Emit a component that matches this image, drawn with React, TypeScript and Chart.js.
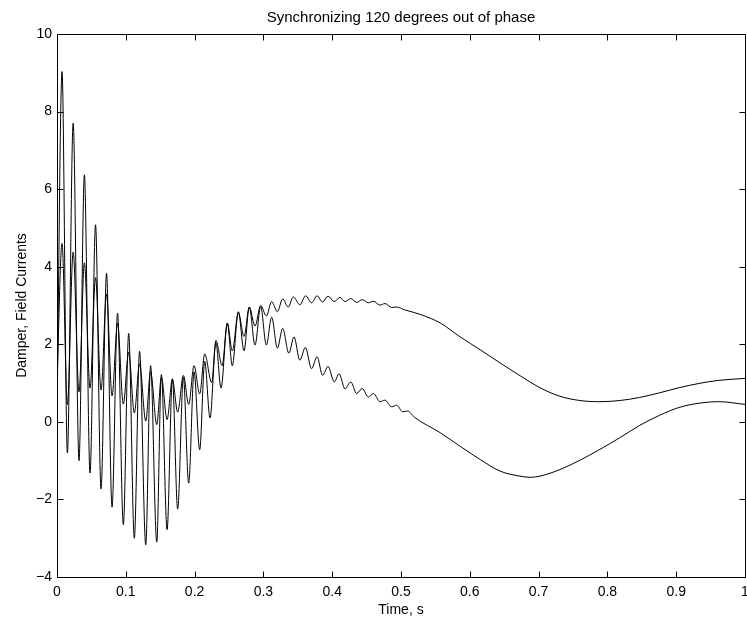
import { useEffect, useRef } from 'react';
import { Chart, registerables } from 'chart.js';

Chart.register(...registerables);

// Damper current (large oscillation, minimum near t = 0.69 s)
const damperTime = [
  0, 0.0073, 0.0151, 0.0235, 0.032, 0.0398, 0.048, 0.056, 0.064, 0.072, 0.08, 0.088, 0.0964, 0.1042,
  0.1124, 0.12, 0.129, 0.136, 0.145, 0.1517, 0.16, 0.1677, 0.1754, 0.1837, 0.1914, 0.1992, 0.2074,
  0.2147, 0.2224, 0.231, 0.2384, 0.2476, 0.2548, 0.2636, 0.2718, 0.2795, 0.2878, 0.296, 0.3043, 0.312,
  0.3203, 0.328, 0.337, 0.3445, 0.353, 0.361, 0.37, 0.378, 0.386, 0.394, 0.403, 0.41, 0.4186, 0.427,
  0.4355, 0.4437, 0.4525, 0.46, 0.4695, 0.4767, 0.4864, 0.4937, 0.5024, 0.5097, 0.5194, 0.557,
  0.586, 0.615, 0.644, 0.673, 0.688, 0.702, 0.731, 0.76, 0.789, 0.818, 0.847, 0.876, 0.904, 0.933,
  0.962, 1.0,
];
const damperCurrent = [
  0.2, 9.03, -0.8, 7.7, -1.0, 6.37, -1.32, 5.08, -1.73, 3.83, -2.2, 2.8, -2.65, 2.28,
  -3.0, 1.82, -3.17, 1.45, -3.1, 1.22, -2.78, 1.11, -2.25, 1.15, -1.58, 1.29, -0.72,
  1.56, 0.1, 2.04, 0.87, 2.54, 1.45, 2.84, 1.83, 2.96, 1.98, 2.97, 1.98, 2.7,
  1.9, 2.41, 1.77, 2.19, 1.59, 1.92, 1.37, 1.68, 1.2, 1.43, 1.03, 1.24, 0.85, 1.03,
  0.73, 0.86, 0.64, 0.73, 0.52, 0.56, 0.39, 0.43, 0.26, 0.28, 0.12, -0.28,
  -0.63, -0.97, -1.27, -1.4, -1.43, -1.4, -1.23, -0.99, -0.71, -0.41, -0.09, 0.17, 0.37, 0.48,
  0.52, 0.45,
];

// Field current (smaller oscillation, settles near 1.1)
const fieldTime = [
  0, 0.0073, 0.0151, 0.0235, 0.032, 0.0398, 0.048, 0.056, 0.064, 0.072, 0.08, 0.088, 0.0964, 0.1042,
  0.1124, 0.12, 0.129, 0.136, 0.145, 0.1517, 0.16, 0.1677, 0.1754, 0.1837, 0.1914, 0.1992, 0.2074,
  0.2147, 0.2248, 0.231, 0.24, 0.2476, 0.2548, 0.2636, 0.2718, 0.2795, 0.2878, 0.296, 0.3043, 0.312,
  0.3203, 0.328, 0.336, 0.3435, 0.353, 0.3614, 0.37, 0.378, 0.386, 0.394, 0.403, 0.4113, 0.4186, 0.427,
  0.4355, 0.4437, 0.4525, 0.46, 0.4695, 0.4767, 0.4864, 0.4937, 0.505, 0.528, 0.557, 0.586, 0.615,
  0.644, 0.673, 0.702, 0.731, 0.76, 0.789, 0.818, 0.847, 0.876, 0.904, 0.933, 0.962, 1.0,
];
const fieldCurrent = [
  1.0, 4.6, 0.45, 4.38, 0.77, 4.1, 0.87, 3.72, 0.82, 3.3, 0.67, 2.55, 0.46, 1.8,
  0.23, 1.5, 0.02, 1.3, -0.07, 1.15, 0.06, 1.1, 0.25, 1.2, 0.45, 1.45, 0.72,
  1.75, 1.01, 2.1, 1.45, 2.55, 1.83, 2.82, 2.2, 2.96, 2.47, 3.0, 2.73, 3.1,
  2.84, 3.17, 2.96, 3.22, 3.02, 3.25, 3.07, 3.25, 3.09, 3.24, 3.1, 3.21, 3.1, 3.18,
  3.08, 3.15, 3.07, 3.11, 3.01, 3.05, 2.95, 2.96, 2.89, 2.77, 2.55, 2.19, 1.86,
  1.52, 1.19, 0.88, 0.66, 0.55, 0.52, 0.55, 0.63, 0.75, 0.88, 0.99, 1.07, 1.12,
];

const xTickValues = [0, 0.1, 0.2, 0.3, 0.4, 0.5, 0.6, 0.7, 0.8, 0.9, 1];
const xTickLabels = ['0', '0.1', '0.2', '0.3', '0.4', '0.5', '0.6', '0.7', '0.8', '0.9', '1'];
const yTickValues = [-4, -2, 0, 2, 4, 6, 8, 10];
const yTickLabels = ['\u22124', '\u22122', '0', '2', '4', '6', '8', '10'];

const chartTitle = 'Synchronizing 120 degrees out of phase';
const xAxisTitle = 'Time, s';
const yAxisTitle = 'Damper, Field Currents';

const FONT = '"Liberation Sans", Arial, Helvetica, sans-serif';

const framePlugin = {
  id: 'matlabFrame',
  afterDraw(chart: any) {
    const { ctx, chartArea } = chart;
    const { left, right, top, bottom } = chartArea;
    const xs = chart.scales.x;
    const ys = chart.scales.y;
    const L = Math.round(left) + 0.5;
    const R = Math.round(right) + 0.5;
    const T = Math.round(top) + 0.5;
    const B = Math.round(bottom) + 0.5;
    const len = 6;
    ctx.save();
    ctx.strokeStyle = '#000';
    ctx.lineWidth = 1;
    ctx.beginPath();
    ctx.moveTo(L, T);
    ctx.lineTo(R, T);
    ctx.lineTo(R, B);
    ctx.lineTo(L, B);
    ctx.closePath();
    xTickValues.forEach((v) => {
      const px = Math.round(xs.getPixelForValue(v)) + 0.5;
      ctx.moveTo(px, B);
      ctx.lineTo(px, B - len);
      ctx.moveTo(px, T);
      ctx.lineTo(px, T + len);
    });
    yTickValues.forEach((v) => {
      const py = Math.round(ys.getPixelForValue(v)) + 0.5;
      ctx.moveTo(L, py);
      ctx.lineTo(L + len, py);
      ctx.moveTo(R, py);
      ctx.lineTo(R - len, py);
    });
    ctx.stroke();
    ctx.restore();
  },
};

export default function App() {
  const ref = useRef<HTMLCanvasElement | null>(null);

  useEffect(() => {
    document.body.style.margin = '0';
    const canvas = ref.current;
    if (!canvas) return;
    const toPoints = (t: number[], v: number[]) => t.map((x, i) => ({ x, y: v[i] }));

    const chart = new Chart(canvas, {
      type: 'line',
      data: {
        datasets: [
          {
            label: 'Damper current',
            data: toPoints(damperTime, damperCurrent),
            borderColor: '#000',
            borderWidth: 1,
            pointRadius: 0,
            fill: false,
            cubicInterpolationMode: 'monotone',
          },
          {
            label: 'Field current',
            data: toPoints(fieldTime, fieldCurrent),
            borderColor: '#000',
            borderWidth: 1,
            pointRadius: 0,
            fill: false,
            cubicInterpolationMode: 'monotone',
          },
        ],
      },
      options: {
        responsive: false,
        animation: false,
        devicePixelRatio: 1,
        layout: { padding: { left: 0, right: 2, top: 0, bottom: 0 } },
        plugins: {
          legend: { display: false },
          tooltip: { enabled: false },
          title: {
            display: true,
            text: chartTitle,
            fullSize: false,
            color: '#000',
            font: { family: FONT, size: 15, weight: 'normal', lineHeight: 1.2 },
            padding: { top: 9, bottom: 7 },
          },
        },
        scales: {
          x: {
            type: 'linear',
            min: 0,
            max: 1,
            grid: { display: false, drawTicks: false },
            border: { display: false },
            afterBuildTicks: (scale: any) => {
              scale.ticks = xTickValues.map((v) => ({ value: v }));
            },
            afterFit: (scale: any) => {
              scale.height = 46;
              scale.paddingLeft = 0;
              scale.paddingRight = 0;
            },
            ticks: {
              color: '#000',
              padding: 7,
              maxRotation: 0,
              autoSkip: false,
              font: { family: FONT, size: 14 },
              callback: (_v: any, i: number) => xTickLabels[i],
            },
            title: {
              display: true,
              text: xAxisTitle,
              color: '#000',
              font: { family: FONT, size: 14 },
              padding: { top: 0, bottom: 4 },
            },
          },
          y: {
            type: 'linear',
            min: -4,
            max: 10,
            grid: { display: false, drawTicks: false },
            border: { display: false },
            afterBuildTicks: (scale: any) => {
              scale.ticks = yTickValues.map((v) => ({ value: v }));
            },
            afterFit: (scale: any) => {
              scale.width = 57;
              scale.paddingTop = 0;
              scale.paddingBottom = 0;
            },
            ticks: {
              color: '#000',
              padding: 5,
              autoSkip: false,
              font: { family: FONT, size: 14 },
              callback: (_v: any, i: number) => yTickLabels[i],
            },
            title: {
              display: true,
              text: yAxisTitle,
              color: '#000',
              font: { family: FONT, size: 14 },
              padding: { top: 14, bottom: 0 },
            },
          },
        },
      },
      plugins: [framePlugin],
    } as any);

    return () => chart.destroy();
  }, []);

  return (
    <div style={{ width: 747, height: 623, background: '#fff' }}>
      <canvas ref={ref} width={747} height={623} style={{ display: 'block' }} />
    </div>
  );
}
